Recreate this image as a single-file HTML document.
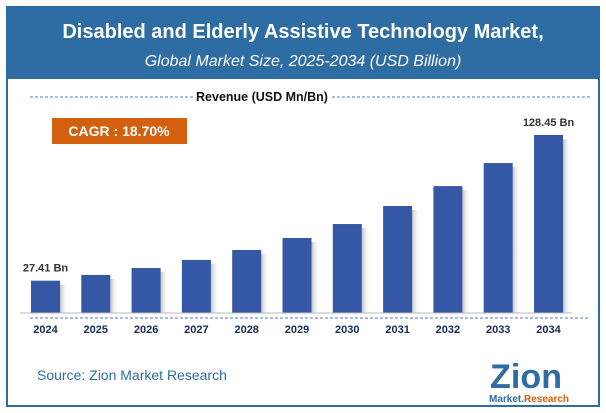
<!DOCTYPE html>
<html><head><meta charset="utf-8"><style>
body{margin:0;width:606px;height:413px;background:#fff;font-family:"Liberation Sans",sans-serif;overflow:hidden}
</style></head><body>
<svg width="606" height="413" style="position:absolute;left:0;top:0">
<defs><linearGradient id="sh" x1="0" x2="1"><stop offset="0" stop-color="#999" stop-opacity="0.6"/><stop offset="1" stop-color="#fff" stop-opacity="0"/></linearGradient></defs>
<rect x="7" y="7" width="592" height="399" fill="#fff" stroke="#2e6ca4" stroke-width="2"/>
<rect x="7" y="7" width="592" height="72" fill="#2e6ca4"/>
<text x="303" y="38" text-anchor="middle" fill="#fff" font-size="20" font-weight="bold">Disabled and Elderly Assistive Technology Market,</text>
<text x="303" y="66" text-anchor="middle" fill="#fff" font-size="16" font-style="italic">Global Market Size, 2025-2034 (USD Billion)</text>
<line x1="30" y1="97" x2="193" y2="97" stroke="#4a7fc0" stroke-dasharray="3,2"/>
<line x1="332" y1="97" x2="590" y2="97" stroke="#4a7fc0" stroke-dasharray="3,2"/>
<text x="262" y="101" text-anchor="middle" font-size="12.5" font-weight="bold" fill="#111">Revenue (USD Mn/Bn)</text>
<rect x="52" y="118" width="135" height="26" fill="#d3600f"/>
<text x="119" y="136" text-anchor="middle" font-size="14" font-weight="bold" fill="#fff">CAGR : 18.70%</text>
<g id="bars"></g>
<line x1="20" y1="313" x2="572" y2="313" stroke="#bbb"/>
<line x1="30" y1="318" x2="590" y2="318" stroke="#4a7fc0" stroke-dasharray="3,2"/>
<text x="37" y="380" font-size="14" fill="#2e6ca4">Source: Zion Market Research</text>
<g>
<text x="490" y="388" font-size="34" font-weight="bold" fill="#2e6ca4" textLength="72">Zion</text>
<text x="489" y="402" font-size="10" font-weight="bold" fill="#2e6ca4">Market.<tspan fill="#d3600f">Research</tspan></text>
</g>
</svg>
<script>
const categories=["2024","2025","2026","2027","2028","2029","2030","2031","2032","2033","2034"];
const values=[27.41,31.4,36.2,41.8,48.7,57,66.7,79.2,93,109,128.45];
const labels={0:"27.41 Bn",10:"128.45 Bn"};
const base=313,k=178/123.45,v0=5;
const y=v=>base-(v-v0)*k;
const x=i=>31+i*50.3;
const g=document.getElementById('bars');const NS="http://www.w3.org/2000/svg";
categories.forEach((c,i)=>{
 const s=document.createElementNS(NS,'rect');
 
 
 s.setAttribute('x',x(i)+29);s.setAttribute('y',y(values[i])+4);s.setAttribute('width',8);s.setAttribute('height',base-y(values[i])-4);s.setAttribute('fill','url(#sh)');g.appendChild(s);
 const r=document.createElementNS(NS,'rect');
 
 
 r.setAttribute('x',x(i));r.setAttribute('y',y(values[i]));r.setAttribute('width',29);r.setAttribute('height',base-y(values[i]));r.setAttribute('fill','#3457a6');g.appendChild(r);
 const t=document.createElementNS(NS,'text');
 
 
 t.setAttribute('x',x(i)+14.5);t.setAttribute('y',333);t.setAttribute('text-anchor','middle');t.setAttribute('font-size','11');t.setAttribute('font-weight','bold');t.setAttribute('fill','#1a2a50');t.textContent=c;g.appendChild(t);
 if(labels[i]){const l=document.createElementNS(NS,'text');
 
 
 l.setAttribute('x',x(i)+14.5);l.setAttribute('y',y(values[i])-9);l.setAttribute('text-anchor','middle');l.setAttribute('font-size','11');l.setAttribute('font-weight','bold');l.setAttribute('fill','#333');l.textContent=labels[i];g.appendChild(l);}
});
</script>
</body></html>
